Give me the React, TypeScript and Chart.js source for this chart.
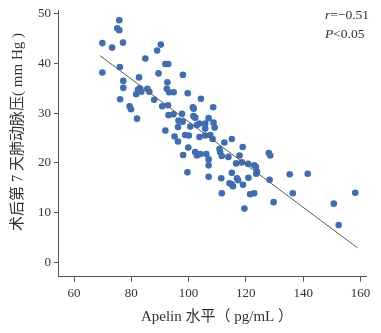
import React, { useEffect, useRef } from "react";
import { Chart, registerables } from "chart.js";

Chart.register(...registerables);

const apelinX = [
  69.9, 69.9, 73.3, 75.8, 75.1, 75.8, 77.1, 76.0, 77.2, 77.2,
  76.1, 79.4, 79.9, 82.0, 84.9, 82.7, 81.7, 82.3, 82.9, 83.5,
  85.6, 86.3, 88.0, 89.0, 90.3, 89.5, 91.9, 92.9, 92.6, 92.4,
  93.2, 94.8, 90.8, 92.8, 93.0, 94.7, 97.7, 91.9, 95.1, 96.3,
  96.5, 97.9, 98.0, 96.3, 98.1, 98.8, 100.1, 99.9, 99.7, 99.6,
  104.3, 108.6, 101.5, 101.8, 101.7, 102.3, 107.0, 108.7, 105.8, 103.8,
  102.9, 100.6, 105.8, 109.1, 103.8, 105.8, 107.6, 108.4, 102.3, 102.9,
  104.1, 106.2, 107.0, 107.0, 110.8, 111.0, 111.6, 112.5, 115.1, 113.9,
  117.8, 118.9, 116.6, 118.6, 120.8, 107.0, 111.4, 115.1, 116.9, 117.3,
  128.0, 128.5, 122.9, 123.5, 123.9, 123.6, 120.9, 119.0, 114.3, 115.1,
  115.5, 111.6, 128.3, 135.3, 141.6, 136.4, 121.5, 122.9, 129.7, 119.5,
  150.7, 152.4, 158.2,
];
const pressureY = [
  44.1, 38.2, 43.2, 48.7, 47.1, 46.7, 44.2, 39.3, 36.5, 35.1,
  32.8, 31.4, 30.8, 28.9, 41.0, 37.2, 33.8, 34.7, 35.0, 34.3,
  34.9, 34.3, 32.7, 42.6, 43.8, 38.0, 39.9, 39.9, 36.2, 34.9,
  34.2, 34.2, 31.4, 31.6, 29.6, 29.8, 29.9, 26.5, 25.3, 27.2,
  28.5, 28.3, 37.7, 24.3, 21.6, 25.6, 25.5, 23.1, 34.0, 18.1,
  32.9, 31.2, 31.2, 30.9, 29.4, 29.1, 29.0, 28.1, 27.9, 27.9,
  27.6, 27.3, 26.9, 27.1, 25.2, 25.5, 25.6, 24.8, 22.2, 21.5,
  21.8, 21.8, 20.7, 19.5, 22.8, 22.2, 21.4, 24.1, 24.8, 21.2,
  21.5, 23.2, 19.9, 20.1, 19.8, 17.2, 16.9, 18.0, 16.9, 16.5,
  22.0, 21.5, 19.5, 19.2, 18.2, 17.8, 17.0, 15.6, 15.9, 15.7,
  15.3, 13.9, 16.6, 17.7, 17.8, 13.9, 13.7, 13.9, 12.1, 10.8,
  11.8, 7.5, 14.0,
];
const fitX = [69, 159];
const fitY = [41.6, 2.9];
const xTickValues = [60, 80, 100, 120, 140, 160];
const yTickValues = [0, 10, 20, 30, 40, 50];
const xTitle = "Apelin 水平（ pg/mL ）";
const yTitle = "术后第 7 天肺动脉压( mm Hg )";
const statR = "r";
const statRText = "=−0.51";
const statP = "P";
const statPText = "<0.05";

const SERIF = '"Liberation Serif", "Times New Roman", "Noto Sans CJK SC", serif';

export default function App() {
  const ref = useRef<HTMLCanvasElement | null>(null);
  useEffect(() => {
    document.body.style.margin = "0";
    const canvas = ref.current;
    if (!canvas) return;

    const textPlugin = {
      id: "texts",
      afterDraw(chart: any) {
        const ctx = chart.ctx;
        ctx.save();
        ctx.fillStyle = "#333";
        // x title
        ctx.font = `15px ${SERIF}`;
        ctx.textAlign = "center";
        ctx.textBaseline = "middle";
        ctx.fillText(xTitle, 217, 317);
        // y title
        ctx.save();
        ctx.translate(18, 132);
        ctx.rotate(-Math.PI / 2);
        ctx.fillText(yTitle, 0, 0);
        ctx.restore();
        // stats
        ctx.textAlign = "left";
        const x0 = 325;
        ctx.font = `italic 13.5px ${SERIF}`;
        ctx.fillText(statR, x0, 15);
        let w = ctx.measureText(statR).width;
        ctx.font = `13.5px ${SERIF}`;
        ctx.fillText(statRText, x0 + w, 15);
        ctx.font = `italic 13.5px ${SERIF}`;
        ctx.fillText(statP, x0, 34);
        w = ctx.measureText(statP).width;
        ctx.font = `13.5px ${SERIF}`;
        ctx.fillText(statPText, x0 + w, 34);
        ctx.restore();
      },
    };

    const chart = new Chart(canvas, {
      type: "scatter",
      data: {
        datasets: [
          {
            type: "line",
            data: fitX.map((x, i) => ({ x, y: fitY[i] })),
            borderColor: "#5a5a5a",
            borderWidth: 1,
            pointRadius: 0,
            fill: false,
          } as any,
          {
            data: apelinX.map((x, i) => ({ x, y: pressureY[i] })),
            backgroundColor: "#3d6db5",
            borderWidth: 0,
            pointRadius: 3.3,
          },
        ],
      },
      options: {
        responsive: false,
        animation: false,
        layout: { padding: { top: 7, right: 14.3, left: 0, bottom: 0 } },
        plugins: { legend: { display: false }, tooltip: { enabled: false } },
        scales: {
          x: {
            type: "linear",
            min: 54.4,
            max: 162.2,
            afterBuildTicks: (s: any) => {
              s.ticks = xTickValues.map((v) => ({ value: v }));
            },
            afterFit: (s: any) => {
              s.height = 56.3;
            },
            grid: { drawOnChartArea: false, drawTicks: true, tickLength: 5, color: "#555" },
            border: { display: true, color: "#555", width: 1 },
            ticks: { color: "#333", font: { family: SERIF, size: 13 }, padding: 4, maxRotation: 0 },
          },
          y: {
            type: "linear",
            min: -2.9,
            max: 50.6,
            afterBuildTicks: (s: any) => {
              s.ticks = yTickValues.map((v) => ({ value: v }));
            },
            afterFit: (s: any) => {
              s.width = 58;
            },
            grid: { drawOnChartArea: false, drawTicks: true, tickLength: 4, color: "#555" },
            border: { display: true, color: "#555", width: 1 },
            ticks: { color: "#333", font: { family: SERIF, size: 13 }, padding: 3 },
          },
        },
      },
      plugins: [textPlugin],
    });
    return () => chart.destroy();
  }, []);
  return (
    <div style={{ width: 381, height: 333 }}>
      <canvas ref={ref} width={381} height={333} style={{ width: 381, height: 333 }} />
    </div>
  );
}
